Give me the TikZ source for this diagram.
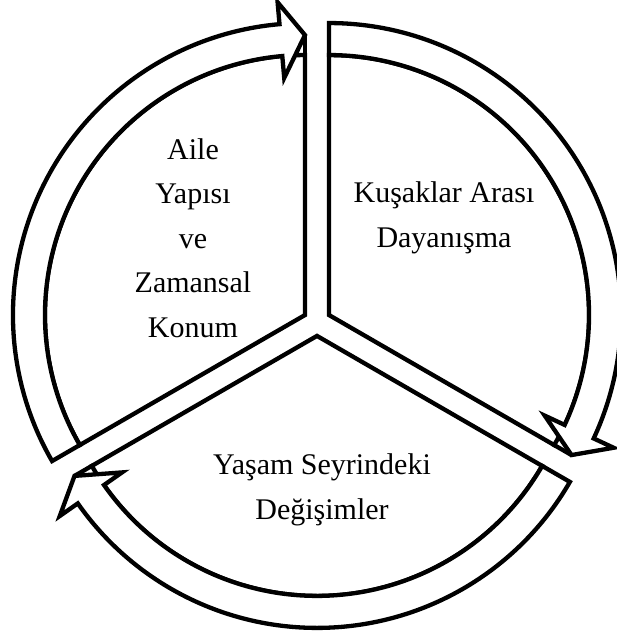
\documentclass[tikz,border=0pt]{standalone}
\usepackage{fontspec}
\setmainfont{Liberation Serif}
\usepackage{tikz}
\usetikzlibrary{positioning}

\begin{document}
\begin{tikzpicture}[
    x=1pt, y=1pt,
    seg_line/.style={draw=black, line width=4.3pt, fill=white, line join=miter},
    label_text/.style={align=center, font=\fontsize{30}{44.5}\selectfont, inner sep=0pt},
    cycle_seg/.pic={
        \path[seg_line] (0,0) -- (90:260pt) arc[start angle=90, end angle=210, radius=260pt] -- cycle;
        \path[seg_line] (210:292pt) arc[start angle=210, end angle=95, radius=292pt]
            -- (95:314pt) -- (90:280pt) -- (95:238pt) -- (95:260pt)
            arc[start angle=95, end angle=210, radius=260pt] -- cycle;
        \draw[line width=4.3pt] (90:258pt) -- (90:280pt);
    }
]
\useasboundingbox (-317,-316) rectangle (300,322);

% Segments
\pic at (150:13.9) {cycle_seg};
\pic[rotate=-120] at (30:13.9) {cycle_seg};
\pic[rotate=-240] at (270:13.9) {cycle_seg};

% Labels
\node (aile) [label_text] at (-124,84) {Aile\\Yapısı\\ve\\Zamansal\\Konum};
\node (kusak) [label_text] at (127,104) {Kuşaklar Arası\\Dayanışma};
\node (yasam) [label_text] at (5,-168) {Yaşam Seyrindeki\\Değişimler};

\end{tikzpicture}
\end{document}
